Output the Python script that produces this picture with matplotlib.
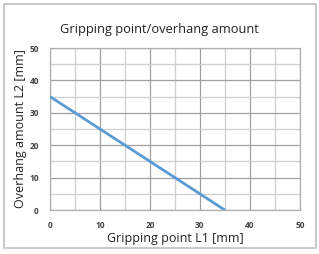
import matplotlib.pyplot as plt
from matplotlib.patches import Rectangle

# data
gripL1 = [0, 35]
overhangL2 = [35, 0]
xTicks = [0, 10, 20, 30, 40, 50]
yTicks = [0, 10, 20, 30, 40, 50]
minorTicks = [5, 15, 25, 35, 45]

plt.rcParams['font.family'] = ['Open Sans', 'DejaVu Sans']

fig = plt.figure(figsize=(3.19, 2.54), dpi=100, facecolor='white')
ax = fig.add_axes([0.157, 0.173, 0.783, 0.638])

# outer frame
fig.patches.append(Rectangle((0.013, 0.024), 0.978, 0.96, transform=fig.transFigure,
                             fill=False, edgecolor='#c0c0c0', linewidth=1.2))

ax.plot(gripL1, overhangL2, color='#5b9bd5', linewidth=2.0, solid_capstyle='butt', zorder=3)

ax.set_xlim(0, 50)
ax.set_ylim(0, 50)
ax.set_xticks(xTicks)
ax.set_yticks(yTicks)
ax.set_xticks(minorTicks, minor=True)
ax.set_yticks(minorTicks, minor=True)
ax.tick_params(which='both', length=0)
ax.tick_params(axis='x', pad=8)
ax.tick_params(axis='y', pad=8)
for lbl in ax.get_xticklabels() + ax.get_yticklabels():
    lbl.set_fontsize(6)
    lbl.set_fontweight('bold')
    lbl.set_color('#444444')

ax.grid(which='major', color='#a0a0a0', linewidth=0.9)
ax.grid(which='minor', color='#cfcfcf', linewidth=0.9)
for s in ax.spines.values():
    s.set_color('#b0b0b0')
    s.set_linewidth(0.9)

ax.set_xlabel('Gripping point L1 [mm]', fontsize=9, color='#222222', labelpad=1)
ax.set_ylabel('Overhang amount L2 [mm]', fontsize=9, color='#222222', labelpad=2)
fig.text(0.50, 0.885, 'Gripping point/overhang amount', ha='center', va='center',
         fontsize=9.3, color='#222222')

fig.savefig('out.png', dpi=100)
